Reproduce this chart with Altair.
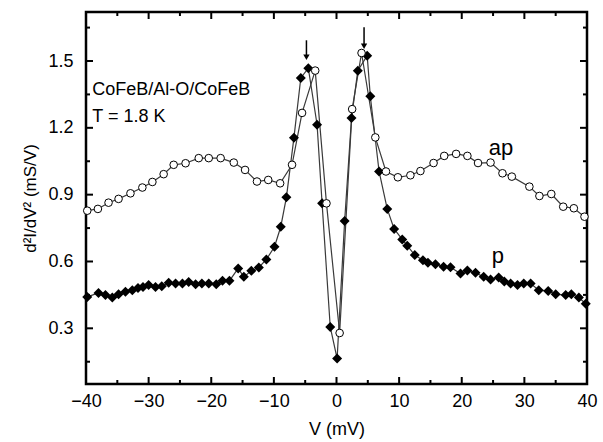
import altair as alt
import pandas as pd

FONT = "Liberation Sans"

# ---- data ----
p_v = [-39.8, -38.0, -36.9, -35.8, -34.8, -33.7, -32.6, -31.7, -30.9, -30.0,
       -28.9, -27.9, -26.8, -25.7, -24.6, -23.6, -22.5, -21.5, -20.4, -19.2,
       -18.2, -17.1, -15.7, -14.8, -13.6, -12.4, -11.2, -9.9, -8.9, -8.0,
       -6.8, -5.7, -4.5, -3.1, -2.3, -1.0, 0.1, 1.3, 2.4, 3.4,
       4.9, 5.4, 6.8, 8.1, 9.2, 10.5, 11.3, 12.5, 13.8, 14.6,
       15.8, 17.1, 18.2, 19.8, 20.9, 22.2, 23.5, 24.6, 25.9, 26.8,
       27.8, 28.9, 29.9, 31.0, 32.3, 33.8, 35.0, 36.6, 37.5, 38.7, 39.8]
p_g = [0.441, 0.459, 0.449, 0.438, 0.453, 0.464, 0.471, 0.481, 0.486, 0.494,
       0.486, 0.489, 0.504, 0.501, 0.501, 0.508, 0.498, 0.501, 0.501, 0.498,
       0.513, 0.513, 0.569, 0.531, 0.558, 0.573, 0.609, 0.666, 0.756, 0.888,
       1.155, 1.424, 1.468, 1.214, 0.861, 0.306, 0.164, 0.782, 1.244, 1.456,
       1.524, 1.342, 1.004, 0.836, 0.746, 0.699, 0.671, 0.629, 0.606, 0.594,
       0.588, 0.576, 0.574, 0.546, 0.559, 0.549, 0.531, 0.519, 0.528, 0.510,
       0.501, 0.494, 0.501, 0.501, 0.471, 0.468, 0.453, 0.449, 0.453, 0.438, 0.410]

ap_v = [-39.8, -38.1, -36.4, -34.8, -32.9, -31.0, -29.4, -27.6, -26.0, -24.1,
        -22.0, -20.4, -18.5, -16.4, -14.6, -12.7, -10.9, -9.0, -7.1, -5.5,
        -3.4, -1.6, 0.5, 2.5, 4.0, 6.2, 7.9, 9.8, 11.8, 13.4,
        15.5, 17.2, 19.1, 20.9, 22.6, 24.6, 26.5, 28.0, 30.8, 32.4,
        34.3, 36.2, 37.9, 39.6]
ap_g = [0.828, 0.836, 0.864, 0.881, 0.906, 0.932, 0.957, 0.992, 1.034, 1.041,
        1.064, 1.064, 1.064, 1.044, 1.011, 0.959, 0.966, 0.951, 1.034, 1.267,
        1.457, 0.861, 0.279, 1.284, 1.536, 1.157, 1.004, 0.978, 0.987, 1.006,
        1.042, 1.074, 1.083, 1.074, 1.042, 1.044, 0.996, 0.981, 0.936, 0.894,
        0.903, 0.846, 0.839, 0.801]

x_major = [-40, -30, -20, -10, 0, 10, 20, 30, 40]
x_minor = [-35, -25, -15, -5, 5, 15, 25, 35]
y_major = [0.3, 0.6, 0.9, 1.2, 1.5]
y_minor = [0.15, 0.45, 0.75, 1.05, 1.35, 1.65]
x_domain = [-40, 40]
y_domain = [0.05, 1.72]

sample_text = ["CoFeB/Al-O/CoFeB", "T = 1.8 K"]
sample_x = [-39.0, -39.0]
sample_y = [1.368, 1.247]

curve_text = ["ap", "p"]
curve_x = [24.3, 24.8]
curve_y = [1.077, 0.592]

arrow_x = [-4.8, 4.4]
arrow_top = [1.593, 1.651]
arrow_head = [1.517, 1.566]

W, H = 501, 372
MAJOR, MINOR = 7, 4
FRAME = "black"

# ---- tables ----
p_df = pd.DataFrame({"v": p_v, "g": p_g})
ap_df = pd.DataFrame({"v": ap_v, "g": ap_g})
sample_df = pd.DataFrame({"v": sample_x, "g": sample_y, "t": sample_text})
curve_df = pd.DataFrame({"v": curve_x, "g": curve_y, "t": curve_text})
arrow_df = pd.DataFrame({"v": arrow_x, "top": arrow_top, "head": arrow_head})
frame_df = pd.DataFrame({"x1": [x_domain[0]], "x2": [x_domain[1]],
                         "y1": [y_domain[0]], "y2": [y_domain[1]]})

xs = alt.Scale(domain=x_domain, nice=False, zero=False)
ys = alt.Scale(domain=y_domain, nice=False, zero=False)

x_axis = alt.Axis(values=x_major, domain=False, grid=False,
                  tickSize=0, labelFlush=False,
                  labelOverlap=False, labelFont=FONT, labelFontSize=18,
                  labelColor="black", labelPadding=8, title="V (mV)",
                  titleFont=FONT, titleFontSize=18, titleFontWeight="normal",
                  titleColor="black", titlePadding=10)
y_axis = alt.Axis(values=y_major, format=".1f", domain=False, grid=False,
                  tickSize=0, labelFlush=False,
                  labelOverlap=False, labelFont=FONT, labelFontSize=18,
                  labelColor="black", labelPadding=13,
                  title="d²I/dV² (mS/V)", titleFont=FONT, titleFontSize=17,
                  titleFontWeight="normal", titleColor="black",
                  titlePadding=8)

line_color = "#3a3a3a"

frame = alt.Chart(frame_df).mark_rect(
    fill="white", stroke=FRAME, strokeWidth=2.5
).encode(
    x=alt.X("x1:Q", scale=xs, axis=x_axis), x2="x2:Q",
    y=alt.Y("y1:Q", scale=ys, axis=y_axis), y2="y2:Q",
)


# inward tick marks on all four sides
def xticks(values, length):
    df = pd.DataFrame({"v": values})
    rule = alt.Chart(df).mark_rule(color=FRAME, strokeWidth=2)
    bottom = rule.encode(x=alt.X("v:Q", scale=xs), y=alt.value(H),
                         y2=alt.value(H - length))
    top = rule.encode(x=alt.X("v:Q", scale=xs), y=alt.value(0),
                      y2=alt.value(length))
    return [bottom, top]


def yticks(values, length):
    df = pd.DataFrame({"g": values})
    rule = alt.Chart(df).mark_rule(color=FRAME, strokeWidth=2)
    left = rule.encode(y=alt.Y("g:Q", scale=ys), x=alt.value(0),
                       x2=alt.value(length))
    right = rule.encode(y=alt.Y("g:Q", scale=ys), x=alt.value(W),
                        x2=alt.value(W - length))
    return [left, right]


ticks = (xticks(x_major, MAJOR) + xticks(x_minor, MINOR)
         + yticks(y_major, MAJOR) + yticks(y_minor, MINOR))

p_line = alt.Chart(p_df).mark_line(color=line_color, strokeWidth=1.2).encode(
    x=alt.X("v:Q", scale=xs), y=alt.Y("g:Q", scale=ys), order="v:Q",
)
ap_line = alt.Chart(ap_df).mark_line(color=line_color, strokeWidth=1.2).encode(
    x=alt.X("v:Q", scale=xs), y=alt.Y("g:Q", scale=ys), order="v:Q",
)
p_pts = alt.Chart(p_df).mark_point(shape="diamond", filled=True, size=100,
                                   color="black", opacity=1).encode(
    x=alt.X("v:Q", scale=xs), y=alt.Y("g:Q", scale=ys),
)
ap_pts = alt.Chart(ap_df).mark_point(shape="circle", filled=True, size=58,
                                     fill="white", stroke="black",
                                     strokeWidth=1, opacity=1).encode(
    x=alt.X("v:Q", scale=xs), y=alt.Y("g:Q", scale=ys),
)

sample_lbl = alt.Chart(sample_df).mark_text(
    align="left", baseline="middle", fontSize=18, font=FONT, color="black"
).encode(x=alt.X("v:Q", scale=xs), y=alt.Y("g:Q", scale=ys), text="t:N")

curve_lbl = alt.Chart(curve_df).mark_text(
    align="left", baseline="alphabetic", fontSize=22, font=FONT, color="black"
).encode(x=alt.X("v:Q", scale=xs), y=alt.Y("g:Q", scale=ys), text="t:N")

arrow_shaft = alt.Chart(arrow_df).mark_rule(color="black", strokeWidth=1.5).encode(
    x=alt.X("v:Q", scale=xs), y=alt.Y("top:Q", scale=ys), y2="head:Q"
)
arrow_tip = alt.Chart(arrow_df).mark_point(
    shape="triangle-down", filled=True, size=40, color="black", opacity=1
).encode(x=alt.X("v:Q", scale=xs), y=alt.Y("head:Q", scale=ys))

chart = alt.layer(
    frame, *ticks, p_line, ap_line, p_pts, ap_pts, sample_lbl, curve_lbl,
    arrow_shaft, arrow_tip
).properties(
    width=W, height=H,
    autosize=alt.AutoSizeParams(type="none"),
    padding={"left": 86, "top": 12, "right": 16, "bottom": 58},
).configure_view(stroke=None)

chart.save("out.html", embed_options={"renderer": "svg", "actions": False})
